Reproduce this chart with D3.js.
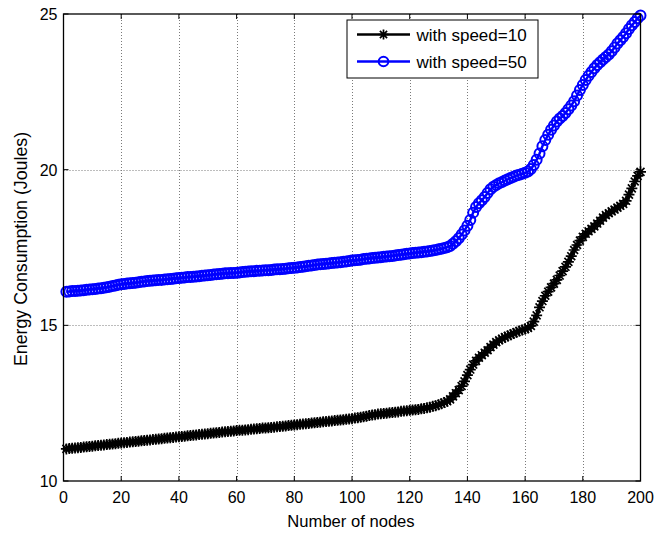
<!DOCTYPE html>
<html><head><meta charset="utf-8">
<script src="https://cdn.jsdelivr.net/npm/d3@7"></script>
<style>body{margin:0;background:#fff}svg{display:block}text{font-family:"Liberation Sans",Arial,sans-serif;fill:#000}</style>
</head><body><div id="chart"></div>
<script>
const nodes = d3.range(1, 201);
const speed10 = [
11.03,11.04,11.05,11.06,11.07,11.08,11.09,11.10,11.11,11.12,
11.13,11.14,11.15,11.16,11.17,11.18,11.19,11.20,11.21,11.22,
11.23,11.24,11.25,11.26,11.27,11.28,11.29,11.30,11.31,11.32,
11.33,11.34,11.35,11.36,11.37,11.38,11.39,11.40,11.41,11.42,
11.43,11.44,11.45,11.46,11.47,11.48,11.49,11.50,11.51,11.52,
11.53,11.54,11.55,11.56,11.57,11.58,11.59,11.60,11.61,11.62,
11.63,11.63,11.64,11.65,11.66,11.67,11.68,11.69,11.70,11.70,
11.71,11.72,11.73,11.74,11.75,11.76,11.77,11.78,11.79,11.80,
11.81,11.82,11.83,11.84,11.85,11.86,11.87,11.88,11.89,11.90,
11.91,11.92,11.93,11.94,11.95,11.96,11.97,11.98,11.99,12.00,
12.02,12.03,12.05,12.06,12.08,12.10,12.12,12.13,12.15,12.16,
12.17,12.18,12.19,12.20,12.21,12.22,12.24,12.25,12.26,12.27,
12.28,12.29,12.30,12.32,12.33,12.35,12.37,12.40,12.42,12.45,
12.48,12.52,12.56,12.62,12.72,12.82,12.92,13.05,13.20,13.40,
13.58,13.74,13.86,13.96,14.04,14.12,14.20,14.30,14.38,14.46,
14.52,14.57,14.62,14.66,14.70,14.74,14.78,14.82,14.85,14.88,
14.92,14.98,15.12,15.32,15.58,15.78,15.95,16.08,16.22,16.34,
16.46,16.60,16.74,16.88,17.04,17.22,17.42,17.58,17.72,17.84,
17.94,18.02,18.10,18.18,18.27,18.36,18.46,18.54,18.60,18.66,
18.72,18.78,18.84,18.90,19.00,19.20,19.40,19.62,19.80,19.93];
const speed50 = [
16.08,16.09,16.10,16.10,16.11,16.12,16.13,16.14,16.15,16.16,
16.17,16.18,16.19,16.21,16.22,16.24,16.26,16.28,16.30,16.32,
16.33,16.34,16.35,16.36,16.37,16.38,16.40,16.41,16.42,16.43,
16.44,16.45,16.46,16.46,16.47,16.48,16.49,16.50,16.51,16.52,
16.53,16.54,16.55,16.55,16.56,16.57,16.58,16.59,16.60,16.61,
16.62,16.63,16.64,16.65,16.66,16.67,16.67,16.68,16.68,16.69,
16.70,16.71,16.72,16.73,16.74,16.74,16.75,16.75,16.76,16.77,
16.77,16.78,16.79,16.80,16.80,16.81,16.82,16.83,16.84,16.85,
16.86,16.87,16.88,16.90,16.91,16.92,16.94,16.95,16.96,16.97,
16.98,16.99,17.00,17.01,17.02,17.03,17.04,17.05,17.07,17.08,
17.09,17.10,17.11,17.13,17.14,17.15,17.16,17.17,17.18,17.19,
17.20,17.21,17.22,17.23,17.24,17.26,17.27,17.28,17.30,17.31,
17.32,17.33,17.34,17.35,17.36,17.37,17.39,17.40,17.42,17.44,
17.46,17.48,17.51,17.55,17.62,17.70,17.80,17.92,18.05,18.20,
18.38,18.62,18.80,18.92,19.02,19.12,19.25,19.37,19.45,19.51,
19.56,19.60,19.65,19.69,19.73,19.77,19.81,19.84,19.87,19.90,
19.94,20.02,20.15,20.32,20.52,20.75,20.95,21.12,21.28,21.42,
21.55,21.64,21.72,21.82,21.94,22.06,22.20,22.38,22.56,22.72,
22.88,23.02,23.14,23.26,23.36,23.45,23.54,23.62,23.70,23.80,
23.92,24.05,24.16,24.26,24.38,24.52,24.64,24.74,24.86,24.95];
const xTicks = [0,20,40,60,80,100,120,140,160,180,200];
const yTicks = [10,15,20,25];
const seriesNames = ["with speed=10","with speed=50"];
const seriesColors = ["#000000","#0000ff"];
const xLabel = "Number of nodes";
const yLabel = "Energy Consumption (Joules)";

const W = 655, H = 533;
const L = 63.5, R = 640.5, T = 14, B = 481;
const x = d3.scaleLinear().domain([0,200]).range([L,R]);
const y = d3.scaleLinear().domain([10,25]).range([B,T]);

const svg = d3.select("#chart").append("svg").attr("width",W).attr("height",H);
svg.append("rect").attr("width",W).attr("height",H).attr("fill","#fff");

// grid
const grid = svg.append("g").attr("stroke","#7a7a7a").attr("stroke-width",1).attr("stroke-dasharray","1,2");
grid.selectAll(".gx").data(xTicks.slice(1,-1)).join("line")
  .attr("x1",d=>Math.round(x(d))+0.5).attr("x2",d=>Math.round(x(d))+0.5).attr("y1",T).attr("y2",B);
grid.selectAll(".gy").data(yTicks.slice(1,-1)).join("line")
  .attr("y1",d=>Math.round(y(d))+0.5).attr("y2",d=>Math.round(y(d))+0.5).attr("x1",L).attr("x2",R);

const line = d3.line().x((d,i)=>x(nodes[i])).y(d=>y(d));

function asterisk(g, cx, cy, r, color){
  const p = d3.path();
  p.moveTo(cx-r,cy); p.lineTo(cx+r,cy);
  p.moveTo(cx,cy-r); p.lineTo(cx,cy+r);
  const q = r*0.72;
  p.moveTo(cx-q,cy-q); p.lineTo(cx+q,cy+q);
  p.moveTo(cx-q,cy+q); p.lineTo(cx+q,cy-q);
  g.append("path").attr("d",p.toString()).attr("stroke",color).attr("stroke-width",1.7).attr("fill","none");
}

// black series
const g10 = svg.append("g");
g10.append("path").datum(speed10).attr("d",line).attr("fill","none").attr("stroke",seriesColors[0]).attr("stroke-width",2.5);
speed10.forEach((v,i)=>asterisk(g10, x(nodes[i]), y(v), 5.5, seriesColors[0]));

// blue series
const g50 = svg.append("g");
g50.append("path").datum(speed50).attr("d",line).attr("fill","none").attr("stroke",seriesColors[1]).attr("stroke-width",2.5);
g50.selectAll("circle").data(speed50).join("circle")
  .attr("cx",(d,i)=>x(nodes[i])).attr("cy",d=>y(d)).attr("r",5)
  .attr("fill","none").attr("stroke",seriesColors[1]).attr("stroke-width",2);

// axes box
svg.append("rect").attr("x",L).attr("y",T).attr("width",R-L).attr("height",B-T)
  .attr("fill","none").attr("stroke","#000").attr("stroke-width",1.3);

// ticks (inward, all sides) and labels
const tk = svg.append("g").attr("stroke","#000").attr("stroke-width",1);
xTicks.forEach(t=>{
  const px = x(t);
  tk.append("line").attr("x1",px).attr("x2",px).attr("y1",B).attr("y2",B-5);
  tk.append("line").attr("x1",px).attr("x2",px).attr("y1",T).attr("y2",T+5);
});
yTicks.forEach(t=>{
  const py = y(t);
  tk.append("line").attr("x1",L).attr("x2",L+5).attr("y1",py).attr("y2",py);
  tk.append("line").attr("x1",R).attr("x2",R-5).attr("y1",py).attr("y2",py);
});
svg.append("g").selectAll("text").data(xTicks).join("text")
  .attr("x",d=>x(d)).attr("y",503).attr("text-anchor","middle").attr("font-size",16).text(d=>d);
svg.append("g").selectAll("text").data(yTicks).join("text")
  .attr("x",57.5).attr("y",d=>y(d)+6).attr("text-anchor","end").attr("font-size",16).text(d=>d);

svg.append("text").attr("x",351).attr("y",527).attr("text-anchor","middle").attr("font-size",16.6).text(xLabel);
svg.append("text").attr("transform","translate(26.5,249) rotate(-90)").attr("text-anchor","middle").attr("font-size",17.8).text(yLabel);

// legend
const lg = svg.append("g");
lg.append("rect").attr("x",347).attr("y",20).attr("width",191).attr("height",58)
  .attr("fill","#fff").attr("stroke","#000").attr("stroke-width",1);
const legY = [34.5, 61.5];
seriesNames.forEach((name,i)=>{
  lg.append("line").attr("x1",357).attr("x2",410).attr("y1",legY[i]).attr("y2",legY[i])
    .attr("stroke",seriesColors[i]).attr("stroke-width",2.5);
  if(i===0) asterisk(lg, 383.5, legY[i], 5, seriesColors[i]);
  else lg.append("circle").attr("cx",383.5).attr("cy",legY[i]).attr("r",4.8)
    .attr("fill","none").attr("stroke",seriesColors[i]).attr("stroke-width",2);
  lg.append("text").attr("x",416.5).attr("y",legY[i]+6).attr("font-size",17).text(name);
});
</script></body></html>
